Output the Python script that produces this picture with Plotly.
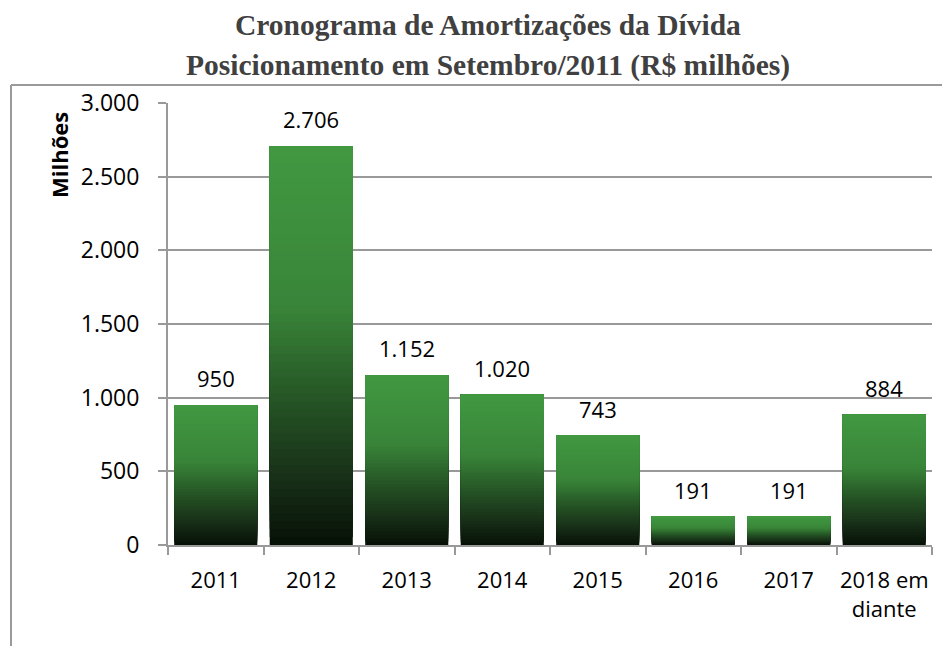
import plotly.graph_objects as go

categories = ["2011", "2012", "2013", "2014", "2015", "2016", "2017", "2018 em<br>diante"]
values = [950, 2706, 1152, 1020, 743, 191, 191, 884]
y_ticks = [0, 500, 1000, 1500, 2000, 2500, 3000]
y_tick_labels = ["0", "500", "1.000", "1.500", "2.000", "2.500", "3.000"]

title_line1 = "Cronograma de Amortizações da Dívida"
title_line2 = "Posicionamento em Setembro/2011 (R$ milhões)"
y_title = "Milhões"

# gradient stops: fraction of bar height from bottom -> rgb
grad_stops = [
    (0.00, (4, 16, 4)),
    (0.04, (11, 24, 11)),
    (0.18, (25, 50, 25)),
    (0.35, (36, 82, 36)),
    (0.60, (57, 133, 57)),
    (1.00, (65, 152, 65)),
]


def grad_color(f):
    for (f0, c0), (f1, c1) in zip(grad_stops[:-1], grad_stops[1:]):
        if f0 <= f <= f1:
            t = (f - f0) / (f1 - f0)
            c = [round(a + (b - a) * t) for a, b in zip(c0, c1)]
            return "rgb(%d,%d,%d)" % tuple(c)
    return "rgb(%d,%d,%d)" % grad_stops[-1][1]


def fmt(v):
    return "{:,}".format(v).replace(",", ".")


# Gradient: overlapping layers, each drawn from its base up to the bar top,
# later (lighter) layers on top, so no seams appear.
N = 50
fig = go.Figure()
for k in range(N):
    fig.add_trace(go.Bar(
        x=categories,
        y=[v * (N - k) / N for v in values],
        base=[v * k / N for v in values],
        marker=dict(color=grad_color((k + 0.5) / N), line=dict(width=0)),
        hoverinfo="skip",
        showlegend=False,
    ))

font_family = "Open Sans, Noto Sans, sans-serif"

for i, v in enumerate(values):
    fig.add_annotation(x=i, y=v, text=fmt(v), showarrow=False,
                       xanchor="center", yanchor="bottom", yshift=10,
                       font=dict(family=font_family, size=22, color="black"))

# page has an 8px body margin; figure sized so it fills the 950x646 window
OFF = 8
W, H = 950 - OFF, 646 - OFF
ml, mr, mt, mb = 168 - OFF, 18, 103 - OFF, 646 - 545
pw, ph = W - ml - mr, H - mt - mb


def px_to_paper_x(px):
    return (px - OFF - ml) / pw


def px_to_paper_y(py):
    return (H - mb - (py - OFF)) / ph


serif = "Liberation Serif, Times New Roman, serif"
fig.add_annotation(x=px_to_paper_x(488), y=px_to_paper_y(25), xref="paper", yref="paper",
                   xanchor="center", yanchor="middle",
                   text="<b>%s</b>" % title_line1, showarrow=False,
                   font=dict(family=serif, size=29.5, color="#404040"))
fig.add_annotation(x=px_to_paper_x(488), y=px_to_paper_y(65), xref="paper", yref="paper",
                   xanchor="center", yanchor="middle",
                   text="<b>%s</b>" % title_line2, showarrow=False,
                   font=dict(family=serif, size=29.5, color="#404040"))
fig.add_annotation(x=px_to_paper_x(59), y=px_to_paper_y(155), xref="paper", yref="paper",
                   xanchor="center", yanchor="middle",
                   text="<b>%s</b>" % y_title, showarrow=False, textangle=-90,
                   font=dict(family=font_family, size=22, color="black"))

frame_color = "#9a9a9a"
fig.add_shape(type="line", xref="paper", yref="paper",
              x0=px_to_paper_x(11), x1=px_to_paper_x(960),
              y0=px_to_paper_y(85), y1=px_to_paper_y(85),
              line=dict(color=frame_color, width=2))
fig.add_shape(type="line", xref="paper", yref="paper",
              x0=px_to_paper_x(11), x1=px_to_paper_x(11),
              y0=px_to_paper_y(85), y1=px_to_paper_y(660),
              line=dict(color=frame_color, width=2))

axis_color = "#999999"
fig.update_layout(
    width=W, height=H,
    margin=dict(l=ml, r=mr, t=mt, b=mb),
    paper_bgcolor="white", plot_bgcolor="white",
    barmode="overlay", bargap=0.13,
    separators=",.",
    showlegend=False,
    xaxis=dict(
        type="category", showgrid=False, showline=True, linecolor=axis_color, linewidth=2,
        ticks="outside", ticklen=8, tickcolor=axis_color, tickwidth=2, tickson="boundaries",
        tickfont=dict(family=font_family, size=22, color="black"),
        ticklabelstandoff=15, tickangle=0,
    ),
    yaxis=dict(
        range=[0, 3000], tickvals=y_ticks, ticktext=y_tick_labels,
        showgrid=True, gridcolor=axis_color, gridwidth=2,
        showline=True, linecolor=axis_color, linewidth=2,
        ticks="outside", ticklen=8, tickcolor=axis_color, tickwidth=2,
        tickfont=dict(family=font_family, size=23, color="black"),
        ticklabelstandoff=14, zeroline=False,
    ),
)

fig.write_html("out.html")
